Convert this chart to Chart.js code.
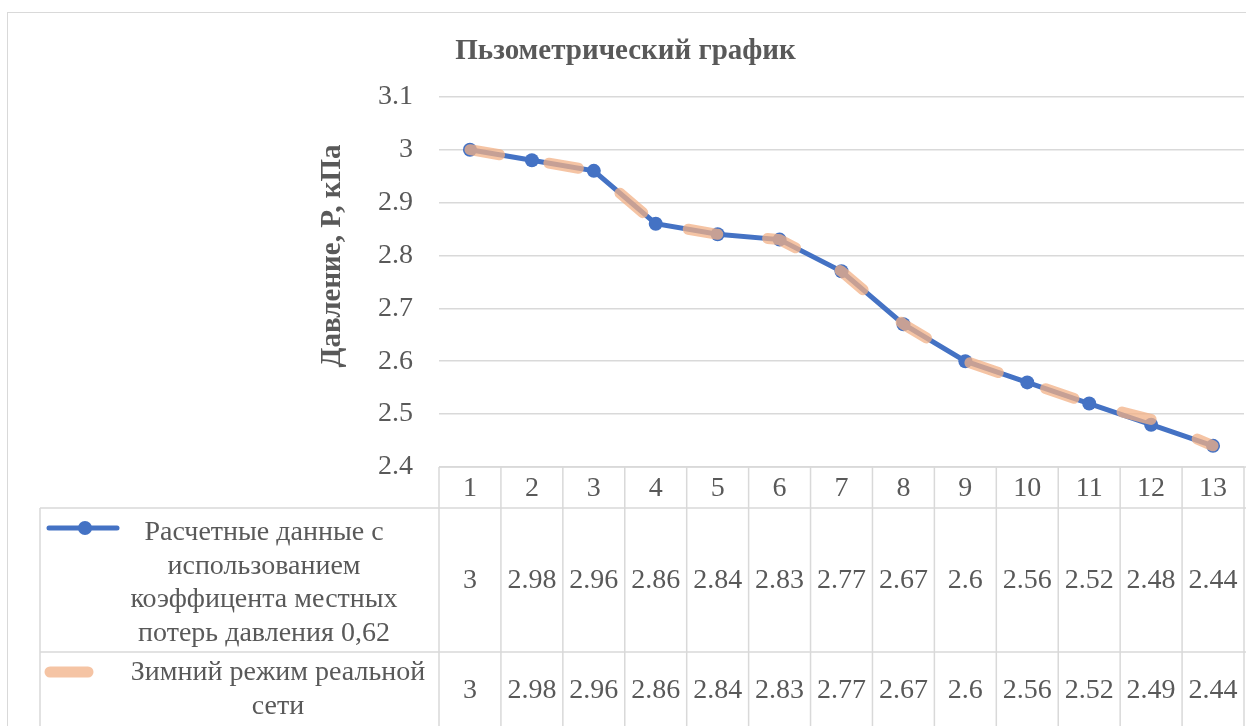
<!DOCTYPE html>
<html>
<head>
<meta charset="utf-8">
<script src="https://cdn.jsdelivr.net/npm/chart.js@4"></script>
<style>
  html, body { margin: 0; padding: 0; background: #fff; overflow: hidden; }
  #wrap { width: 1251px; height: 726px; }
</style>
</head>
<body>
<div id="wrap"><canvas id="pieChart"></canvas></div>
<script>
// Chart data
const categories = ['1', '2', '3', '4', '5', '6', '7', '8', '9', '10', '11', '12', '13'];
const calcValues = [3, 2.98, 2.96, 2.86, 2.84, 2.83, 2.77, 2.67, 2.6, 2.56, 2.52, 2.48, 2.44];
const winterValues = [3, 2.98, 2.96, 2.86, 2.84, 2.83, 2.77, 2.67, 2.6, 2.56, 2.52, 2.49, 2.44];
const calcLabel = ['Расчетные данные с', 'использованием', 'коэффицента местных', 'потерь давления 0,62'];
const winterLabel = ['Зимний режим реальной', 'сети'];
const titleText = 'Пьзометрический график';
const yTitle = 'Давление, P, кПа';

const FONT = "'Liberation Serif', 'Times New Roman', serif";
const TEXT = '#595959';
const GRID = '#d9d9d9';
const BLUE = '#4472c4';
const PEACH = 'rgba(242, 176, 134, 0.75)';

// Excel-style data table below the plot, plus y title and outer border
const tablePlugin = {
  id: 'dataTable',
  afterDraw(chart) {
    const { ctx, chartArea, scales: { x } } = chart;
    const top = chartArea.bottom;
    const headerBottom = top + 41;
    const row1Bottom = 652;
    const row2Bottom = 730;
    const legendLeft = 40;
    const right = chart.width;
    const cw = chartArea.width / categories.length;

    ctx.save();
    // outer chart border
    ctx.strokeStyle = GRID;
    ctx.lineWidth = 1;
    ctx.strokeRect(7.5, 12.5, chart.width, chart.height);

    ctx.lineWidth = 1.5;
    const line = (x1, y1, x2, y2) => {
      ctx.beginPath(); ctx.moveTo(x1, y1); ctx.lineTo(x2, y2); ctx.stroke();
    };
    line(chartArea.left, top, right, top);
    line(legendLeft, headerBottom, right, headerBottom);
    line(legendLeft, row1Bottom, right, row1Bottom);
    line(legendLeft, headerBottom, legendLeft, row2Bottom);
    for (let i = 0; i <= categories.length; i++) {
      const ex = chartArea.left + i * cw;
      line(ex, top, ex, row2Bottom);
    }

    ctx.fillStyle = TEXT;
    ctx.font = '28px ' + FONT;
    ctx.textAlign = 'center';
    ctx.textBaseline = 'middle';
    categories.forEach((c, i) => {
      const cx = x.getPixelForValue(i);
      ctx.fillText(c, cx, top + 22);
      ctx.fillText(String(calcValues[i]), cx, 581);
      ctx.fillText(String(winterValues[i]), cx, 691);
    });

    // legend cells
    calcLabel.forEach((t, i) => ctx.fillText(t, 264, 533 + i * 33.5));
    winterLabel.forEach((t, i) => ctx.fillText(t, 278, 673 + i * 34));

    ctx.lineCap = 'round';
    ctx.strokeStyle = BLUE;
    ctx.lineWidth = 5;
    line(49, 528, 117, 528);
    ctx.fillStyle = BLUE;
    ctx.beginPath(); ctx.arc(85, 528, 7, 0, Math.PI * 2); ctx.fill();
    ctx.strokeStyle = PEACH;
    ctx.lineWidth = 11;
    line(50, 672, 88, 672);

    // y axis title
    ctx.fillStyle = TEXT;
    ctx.font = 'bold 29px ' + FONT;
    ctx.translate(333, 256);
    ctx.rotate(-Math.PI / 2);
    ctx.fillText(yTitle, 0, 0);
    ctx.restore();
  }
};

new Chart(document.getElementById('pieChart'), {
  type: 'line',
  data: {
    labels: categories,
    datasets: [{
      label: calcLabel.join(' '),
      data: calcValues,
      borderColor: BLUE,
      backgroundColor: BLUE,
      borderWidth: 5,
      pointRadius: 7,
      pointBorderWidth: 0,
      pointBackgroundColor: BLUE,
      tension: 0,
      order: 2
    }, {
      label: winterLabel.join(' '),
      data: winterValues,
      borderColor: PEACH,
      borderWidth: 11,
      borderDash: [30, 50],
      borderCapStyle: 'round',
      pointRadius: 0,
      tension: 0,
      order: 1
    }]
  },
  options: {
    responsive: true,
    maintainAspectRatio: false,
    animation: false,
    layout: { padding: { left: 0, right: 0, top: 0, bottom: 259 } },
    plugins: {
      legend: { display: false },
      tooltip: { enabled: false },
      title: {
        display: true,
        text: titleText,
        color: TEXT,
        font: { family: FONT, size: 29, weight: 'bold' },
        padding: { top: 34, bottom: 28 }
      }
    },
    scales: {
      x: { display: false, offset: true },
      y: {
        min: 2.4,
        max: 3.1,
        afterFit: (s) => { s.width = 439; },
        ticks: {
          stepSize: 0.1,
          padding: 26,
          color: TEXT,
          font: { family: FONT, size: 28 },
          callback: (v) => String(Number(v.toFixed(2)))
        },
        grid: { color: GRID, lineWidth: 1.5, drawTicks: false },
        border: { display: false }
      }
    }
  },
  plugins: [tablePlugin]
});
</script>
</body>
</html>
